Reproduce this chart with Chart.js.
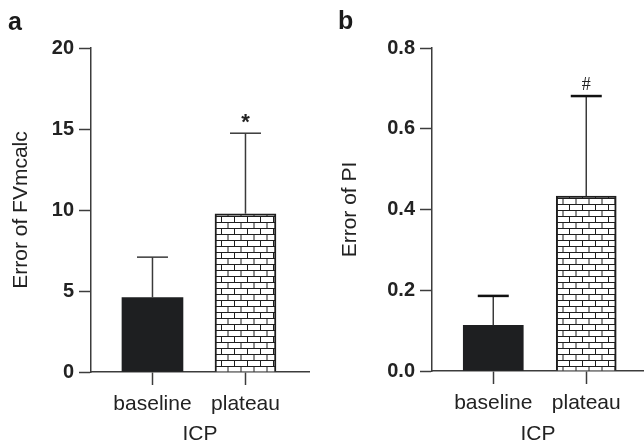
<!DOCTYPE html>
<html>
<head>
<meta charset="utf-8">
<script src="https://cdn.jsdelivr.net/npm/chart.js@4/dist/chart.umd.min.js"></script>
<style>
  html, body { margin: 0; padding: 0; background: #ffffff; }
  #wrap { position: relative; width: 644px; height: 448px; overflow: hidden; background: #fff; }
  .panel { position: absolute; top: 0; height: 448px; }
  .tag { position: absolute; font-family: "Liberation Sans", Arial, sans-serif; font-weight: bold;
         font-size: 25px; line-height: 25px; color: #1a1a1a; }
</style>
</head>
<body>
<div id="wrap">
  <div class="panel" style="left:0;width:322px;"><canvas id="ca" width="322" height="448"></canvas></div>
  <div class="panel" style="left:322px;width:322px;"><canvas id="cb" width="322" height="448"></canvas></div>
  <div class="tag" style="left:8px;top:9px;">a</div>
  <div class="tag" style="left:338px;top:8px;">b</div>
</div>
<script>
// ---- data ----
const categories = ['baseline', 'plateau'];
const axisTitleX = 'ICP';

const fvMean  = [4.60, 9.77];
const fvSD    = [2.49, 4.97];
const fvMarks = ['', '*'];
const fvTicks = [0, 5, 10, 15, 20];
const fvTitle = 'Error of FVmcalc';

const piMean  = [0.113, 0.433];
const piSD    = [0.073, 0.248];
const piMarks = ['', '#'];
const piTicks = [0.0, 0.2, 0.4, 0.6, 0.8];
const piTitle = 'Error of PI';

// ---- styling ----
const INK = '#222222';
const AXIS = '#3c3c3c';
const FONT = '"Liberation Sans", Arial, Helvetica, sans-serif';

function brickPattern() {
  const c = document.createElement('canvas');
  c.width = 13; c.height = 12;
  const g = c.getContext('2d');
  g.fillStyle = '#ffffff';
  g.fillRect(0, 0, 13, 12);
  g.strokeStyle = '#1e1e1e';
  g.lineWidth = 1;
  g.beginPath();
  g.moveTo(0, 0.5); g.lineTo(13, 0.5);
  g.moveTo(0, 6.5); g.lineTo(13, 6.5);
  g.moveTo(0.5, 0); g.lineTo(0.5, 6);
  g.moveTo(7, 6); g.lineTo(7, 12);
  g.stroke();
  return g.createPattern(c, 'repeat');
}

const errorBarPlugin = {
  id: 'errorBars',
  afterDatasetsDraw(chart, args, opts) {
    const { ctx, scales: { x, y } } = chart;
    const means = opts.means, sds = opts.sds, marks = opts.marks;
    ctx.save();
    means.forEach((m, i) => {
      const px = x.getPixelForValue(i);
      const yTop = y.getPixelForValue(m);
      const yErr = y.getPixelForValue(m + sds[i]);
      ctx.strokeStyle = opts.lineColor;
      ctx.lineWidth = 1.5;
      ctx.beginPath();
      ctx.moveTo(px, yTop);
      ctx.lineTo(px, yErr);
      ctx.stroke();
      ctx.strokeStyle = opts.capColor;
      ctx.lineWidth = opts.capWidth;
      ctx.beginPath();
      ctx.moveTo(px - 15.5, yErr);
      ctx.lineTo(px + 15.5, yErr);
      ctx.stroke();
      if (marks[i]) {
        ctx.fillStyle = INK;
        ctx.font = opts.markFont;
        ctx.textAlign = 'center';
        ctx.textBaseline = 'alphabetic';
        ctx.fillText(marks[i], px, yErr - opts.markGap);
      }
    });
    ctx.restore();
  }
};

function makeChart(id, cfg) {
  const pattern = brickPattern();
  return new Chart(document.getElementById(id), {
    type: 'bar',
    data: {
      datasets: [{
        data: categories.map((c, i) => ({ x: i, y: cfg.means[i] })),
        backgroundColor: [ '#1e1f21', pattern ],
        borderColor: [ '#1e1f21', '#1e1e1e' ],
        borderWidth: [ 0, 2 ],
        barThickness: cfg.barW,
        borderSkipped: 'bottom'
      }]
    },
    options: {
      responsive: false,
      animation: false,
      devicePixelRatio: 1,
      layout: { padding: { top: 48, right: cfg.padRight, left: 0, bottom: 0 } },
      plugins: {
        legend: { display: false },
        tooltip: { enabled: false },
        errorBars: {
          means: cfg.means, sds: cfg.sds, marks: cfg.marks,
          lineColor: '#3a3a3a', capColor: cfg.capColor, capWidth: cfg.capWidth,
          markFont: cfg.markFont, markGap: cfg.markGap
        }
      },
      scales: {
        x: {
          type: 'linear',
          offset: false,
          min: cfg.xMin, max: cfg.xMax,
          afterBuildTicks: s => { s.ticks = categories.map((c, i) => ({ value: i })); },
          afterFit: s => { s.height = cfg.xAxisH; },
          ticks: {
            callback: v => categories[v],
            font: { family: FONT, size: 21 },
            color: INK,
            padding: 7,
            maxRotation: 0,
            autoSkip: false
          },
          grid: { display: true, offset: false, drawOnChartArea: false, drawTicks: true, tickLength: 13,
                  tickWidth: 1.5, tickColor: AXIS, color: AXIS },
          border: { display: true, color: AXIS, width: 1.5 },
          title: { display: true, text: axisTitleX, color: INK,
                   font: { family: FONT, size: 21 }, padding: { top: 0, bottom: 1 } }
        },
        y: {
          min: cfg.ticks[0], max: cfg.ticks[cfg.ticks.length - 1],
          afterBuildTicks: s => { s.ticks = cfg.ticks.map(v => ({ value: v })); },
          afterFit: s => { s.width = cfg.yAxisW; },
          ticks: {
            callback: v => cfg.fmt(v),
            font: { family: FONT, size: 20, weight: 'bold' },
            color: INK,
            padding: 5
          },
          grid: { display: true, drawOnChartArea: false, drawTicks: true, tickLength: 12,
                  tickWidth: 1.5, tickColor: AXIS, color: AXIS },
          border: { display: true, color: AXIS, width: 1.5 },
          title: { display: true, text: cfg.title, color: INK,
                   font: { family: FONT, size: 21 }, padding: { top: cfg.titlePad, bottom: 0 } }
        }
      }
    },
    plugins: [errorBarPlugin]
  });
}

makeChart('ca', {
  means: fvMean, sds: fvSD, marks: fvMarks, ticks: fvTicks, title: fvTitle,
  fmt: v => String(v),
  xMin: -0.661, xMax: 1.683, barW: 61, padRight: 13, xAxisH: 76, yAxisW: 91,
  titlePad: 9, capColor: '#3a3a3a', capWidth: 1.5,
  markFont: 'bold 22px ' + FONT, markGap: 4
});

makeChart('cb', {
  means: piMean, sds: piSD, marks: piMarks, ticks: piTicks, title: piTitle,
  fmt: v => v.toFixed(1),
  xMin: -0.659, xMax: 1.621, barW: 60, padRight: 0, xAxisH: 77, yAxisW: 110,
  titlePad: 16, capColor: '#111111', capWidth: 2.5,
  markFont: '18px "Liberation Serif", "Times New Roman", serif', markGap: 6
});
</script>
</body>
</html>
